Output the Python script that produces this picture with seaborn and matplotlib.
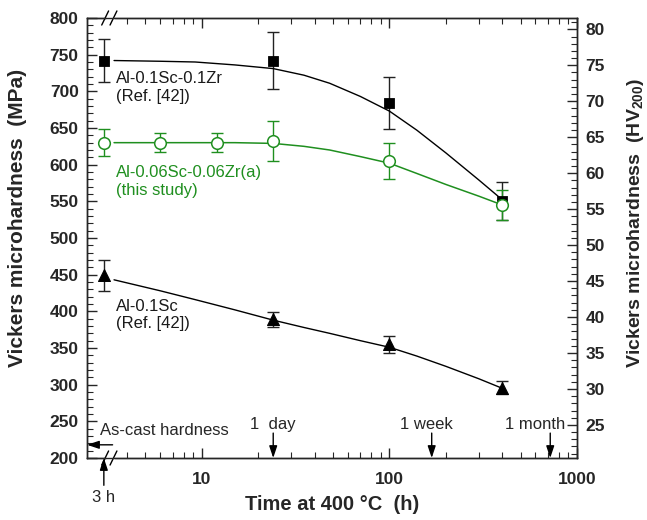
import numpy as np
import pandas as pd
import matplotlib
matplotlib.use("Agg")
import matplotlib.pyplot as plt
import matplotlib.ticker as mticker
import seaborn as sns

# measured points (time in h, hardness in MPa, error in MPa)
t_zr = [3, 24, 100, 400]
hv_zr = [742, 742, 684, 551]
err_zr = [29, 39, 35, 26]

t_this = [3, 6, 12, 24, 100, 400]
hv_this = [630, 630, 630, 632, 605, 545]
err_this = [18, 13, 13, 27, 24, 20]

t_sc = [3, 24, 100, 400]
hv_sc = [449, 389, 355, 296]
err_sc = [21, 10, 12, 9]

# fitted trend curves
fit_t = [3.4, 6, 9.2, 15, 24, 35, 48, 70, 100, 140, 200, 300, 400]
fit_zr = [742, 741, 740, 736, 731, 722, 711, 693, 673, 647, 616, 579, 552]
fit_this = [630, 630, 630, 630, 629, 625, 620, 611, 602, 588, 573, 557, 545]
fit_sc = [443, 428, 416, 402, 388, 378, 370, 360, 351, 339, 325, 308, 295]

green = "#1f8f1f"
MPA_PER_HV = 9.807

sns.set_theme(style="ticks")
plt.rcParams["font.family"] = ["Liberation Sans", "DejaVu Sans"]
plt.rcParams["mathtext.fontset"] = "custom"
plt.rcParams["mathtext.rm"] = "Liberation Sans"
plt.rcParams["mathtext.bf"] = "Liberation Sans:bold"
plt.rcParams["xtick.direction"] = "in"
plt.rcParams["ytick.direction"] = "in"

fig = plt.figure(figsize=(6.47, 5.2), dpi=100)
ax = fig.add_axes([0.1345, 0.1192, 0.7573, 0.8462])

# error bars
ax.errorbar(t_zr, hv_zr, yerr=err_zr, fmt="none", ecolor="#222222", elinewidth=1, capsize=4, capthick=1)
ax.errorbar(t_this, hv_this, yerr=err_this, fmt="none", ecolor=green, elinewidth=1, capsize=4, capthick=1)
ax.errorbar(t_sc, hv_sc, yerr=err_sc, fmt="none", ecolor="#222222", elinewidth=1, capsize=4, capthick=1)

# trend lines
fits = pd.DataFrame({"t": fit_t, "zr": fit_zr, "this": fit_this, "sc": fit_sc})
sns.lineplot(data=fits, x="t", y="zr", color="black", lw=1, ax=ax)
sns.lineplot(data=fits, x="t", y="this", color=green, lw=1.1, ax=ax)
sns.lineplot(data=fits, x="t", y="sc", color="black", lw=1, ax=ax)

# markers
sns.scatterplot(x=t_zr, y=hv_zr, marker="s", s=55, color="black", edgecolor="black", ax=ax, zorder=5)
sns.scatterplot(x=t_this, y=hv_this, marker="o", s=70, facecolor="white", edgecolor=green, linewidth=1.1, ax=ax, zorder=5)
sns.scatterplot(x=t_sc, y=hv_sc, marker="^", s=75, color="black", edgecolor="black", ax=ax, zorder=5)

ax.set_xscale("log")
ax.set_xlim(2.44, 1000)
ax.set_ylim(200, 800)
ax.xaxis.set_major_locator(mticker.FixedLocator([10, 100, 1000]))
ax.xaxis.set_major_formatter(mticker.FixedFormatter(["10", "100", "1000"]))
minor_x = [m * d for d in (1, 10, 100) for m in range(2, 10) if m * d > 3.5]
ax.xaxis.set_minor_locator(mticker.FixedLocator(minor_x))
ax.xaxis.set_minor_formatter(mticker.NullFormatter())
ax.yaxis.set_major_locator(mticker.MultipleLocator(50))
ax.yaxis.set_minor_locator(mticker.MultipleLocator(10))
ax.tick_params(which="major", length=7, width=1, top=True, right=False, labelsize=12.5, pad=6)
ax.tick_params(which="minor", length=4, width=0.8, top=True, right=False)
ax.tick_params(axis="x", which="major", pad=10)
for lab in ax.get_xticklabels() + ax.get_yticklabels():
    lab.set_fontweight("bold")
for sp in ax.spines.values():
    sp.set_linewidth(1)
    sp.set_color("black")

ax.set_xlabel("Time at 400 °C  (h)", fontsize=14.5, fontweight="bold", labelpad=6)
ax.set_ylabel("Vickers microhardness  (MPa)", fontsize=15, fontweight="bold")
ax.yaxis.set_label_coords(-0.123, 0.545)

# right axis in HV
ax2 = ax.twinx()
ax2.set_ylim(200 / MPA_PER_HV, 800 / MPA_PER_HV)
ax2.yaxis.set_major_locator(mticker.FixedLocator(np.arange(25, 81, 5)))
ax2.yaxis.set_minor_locator(mticker.MultipleLocator(1))
ax2.tick_params(which="major", length=7, width=1, labelsize=12.5, pad=6)
ax2.tick_params(which="minor", length=4, width=0.8)
for lab in ax2.get_yticklabels():
    lab.set_fontweight("bold")
for sp in ax2.spines.values():
    sp.set_linewidth(1)
ax2.set_ylabel(r"Vickers microhardness  (HV$_{\mathbf{200}}$)", fontsize=14, fontweight="bold")
ax2.yaxis.set_label_coords(1.098, 0.535)

# labels for series
ax.text(3.47, 705, "Al-0.1Sc-0.1Zr\n(Ref. [42])", fontsize=12, color="#1a1a1a", va="center", ha="left")
ax.text(3.47, 577, "Al-0.06Sc-0.06Zr(a)\n(this study)", fontsize=12, color=green, va="center", ha="left")
ax.text(3.47, 395, "Al-0.1Sc\n(Ref. [42])", fontsize=12, color="#1a1a1a", va="center", ha="left")

# time markers
arrow = dict(arrowstyle="-|>,head_length=0.6,head_width=0.2", color="black", lw=1, shrinkA=0, shrinkB=0)
for tx, label, lx in [(24, "1  day", 24), (168, "1 week", 157), (720, "1 month", 600)]:
    ax.annotate("", xy=(tx, 200), xytext=(tx, 234), arrowprops=arrow)
    ax.text(lx, 246, label, fontsize=12, ha="center", va="center")
ax.annotate("", xy=(2.44, 218), xytext=(3.34, 218), arrowprops=arrow, annotation_clip=False)
ax.text(2.85, 237, "As-cast hardness", fontsize=12, ha="left", va="center")
ax.annotate("", xy=(3, 0), xycoords=("data", "axes fraction"), xytext=(3, -0.062),
            textcoords=("data", "axes fraction"), arrowprops=arrow, annotation_clip=False)
ax.text(3, -0.089, "3 h", fontsize=12, ha="center", va="center", transform=ax.get_xaxis_transform())

# axis break marks
for yb in (0, 1):
    ax.plot([0.040, 0.052], [yb, yb], color="white", lw=2.5, transform=ax.transAxes, clip_on=False, zorder=10)
    for x0 in (0.030, 0.047):
        ax.plot([x0, x0 + 0.014], [yb - 0.016, yb + 0.016], color="black", lw=1,
                transform=ax.transAxes, clip_on=False, zorder=11)

fig.savefig("out.png", dpi=100)
